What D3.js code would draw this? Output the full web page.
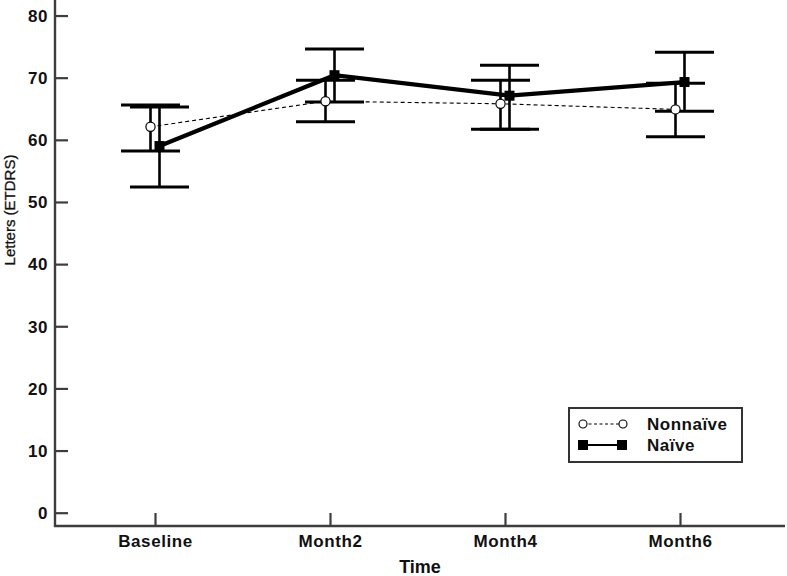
<!DOCTYPE html>
<html>
<head>
<meta charset="utf-8">
<script src="https://cdn.jsdelivr.net/npm/d3@7"></script>
<style>
  html, body { margin: 0; padding: 0; background: #fff; }
  svg { display: block; font-family: "Liberation Sans", Arial, sans-serif; }
</style>
</head>
<body>
<svg id="chart" width="787" height="576"></svg>
<script>
const categories = ["Baseline", "Month2", "Month4", "Month6"];
const yTicks = [0, 10, 20, 30, 40, 50, 60, 70, 80];

const nonnaiveMean = [62.1, 66.2, 65.8, 64.9];
const nonnaiveLow  = [58.2, 62.9, 61.7, 60.5];
const nonnaiveHigh = [65.6, 69.6, 69.6, 69.1];

const naiveMean = [59.0, 70.4, 67.1, 69.3];
const naiveLow  = [52.4, 66.1, 61.7, 64.6];
const naiveHigh = [65.3, 74.6, 72.0, 74.1];

const seriesNames = ["Nonnaïve", "Naïve"];

const svg = d3.select("#chart");
const axisColor = "#3d3d3d";

const x = d3.scalePoint().domain(categories).range([155, 680]);
const y = d3.scaleLinear().domain([-2.14, 82.5]).range([526, 0]);

// Y axis
const yAxis = d3.axisLeft(y).tickValues(yTicks).tickSize(-13).tickSizeOuter(0).tickPadding(20);
const gy = svg.append("g").attr("transform", "translate(55,0)").call(yAxis);
gy.select(".domain").remove();
gy.selectAll(".tick line").attr("stroke", axisColor).attr("stroke-width", 2.2);
gy.selectAll(".tick text").attr("fill", "#111").attr("font-size", 17).attr("font-weight", "bold")
  .attr("x", -7).attr("dy", "0.34em").attr("letter-spacing", 0.5);

// X axis
const xAxis = d3.axisBottom(x).tickSize(-13).tickSizeOuter(0).tickPadding(20);
const gx = svg.append("g").attr("transform", "translate(0,526)").call(xAxis);
gx.select(".domain").remove();
gx.selectAll(".tick line").attr("stroke", axisColor).attr("stroke-width", 2.2);
gx.selectAll(".tick text").attr("fill", "#111").attr("font-size", 17).attr("font-weight", "bold")
  .attr("y", 9).attr("dy", "0.71em").attr("letter-spacing", 0.6);

// axis lines
svg.append("line").attr("x1", 55).attr("x2", 55).attr("y1", 0).attr("y2", 527)
  .attr("stroke", axisColor).attr("stroke-width", 2.4);
svg.append("line").attr("x1", 54).attr("x2", 785).attr("y1", 526).attr("y2", 526)
  .attr("stroke", axisColor).attr("stroke-width", 2.4);

// Axis titles
svg.append("text").attr("x", 420).attr("y", 573).attr("text-anchor", "middle")
  .attr("font-size", 18).attr("font-weight", "bold").attr("fill", "#111").text("Time");
svg.append("text").attr("transform", "translate(15,210) rotate(-90)").attr("text-anchor", "middle")
  .attr("font-size", 15).attr("fill", "#111").attr("stroke", "#111").attr("stroke-width", 0.3)
  .text("Letters (ETDRS)");

const series = [
  { name: seriesNames[0], mean: nonnaiveMean, low: nonnaiveLow, high: nonnaiveHigh, dx: -4.5 },
  { name: seriesNames[1], mean: naiveMean, low: naiveLow, high: naiveHigh, dx: 4.5 }
];

const capHalf = 29.5;
// error bars
series.forEach(s => {
  const g = svg.append("g");
  categories.forEach((c, i) => {
    const cx = x(c) + s.dx;
    g.append("line").attr("x1", cx).attr("x2", cx).attr("y1", y(s.low[i])).attr("y2", y(s.high[i]))
      .attr("stroke", "#000").attr("stroke-width", 2.6);
    [s.low[i], s.high[i]].forEach(v => {
      g.append("line").attr("x1", cx - capHalf).attr("x2", cx + capHalf).attr("y1", y(v)).attr("y2", y(v))
        .attr("stroke", "#000").attr("stroke-width", 3);
    });
  });
});

// lines
const lineGen = (s) => d3.line().x((d, i) => x(categories[i]) + s.dx).y(d => y(d))(s.mean);
svg.append("path").attr("d", lineGen(series[0])).attr("fill", "none")
  .attr("stroke", "#000").attr("stroke-width", 1.1).attr("stroke-dasharray", "4,3");
svg.append("path").attr("d", lineGen(series[1])).attr("fill", "none")
  .attr("stroke", "#000").attr("stroke-width", 4.2).attr("stroke-linejoin", "miter");

// markers
categories.forEach((c, i) => {
  svg.append("circle").attr("cx", x(c) + series[0].dx).attr("cy", y(nonnaiveMean[i])).attr("r", 4.6)
    .attr("fill", "#fff").attr("stroke", "#000").attr("stroke-width", 1.2);
  svg.append("rect").attr("x", x(c) + series[1].dx - 5).attr("y", y(naiveMean[i]) - 5)
    .attr("width", 10).attr("height", 10).attr("fill", "#000");
});

// legend
const lg = svg.append("g");
lg.append("rect").attr("x", 569).attr("y", 408).attr("width", 173).attr("height", 54)
  .attr("fill", "#fff").attr("stroke", "#333").attr("stroke-width", 2);
lg.append("line").attr("x1", 583).attr("x2", 623).attr("y1", 424).attr("y2", 424)
  .attr("stroke", "#000").attr("stroke-width", 1.1).attr("stroke-dasharray", "3,2.5");
[583, 623].forEach(px => lg.append("circle").attr("cx", px).attr("cy", 424).attr("r", 4)
  .attr("fill", "#fff").attr("stroke", "#000").attr("stroke-width", 1.1));
lg.append("line").attr("x1", 583).attr("x2", 623).attr("y1", 445).attr("y2", 445)
  .attr("stroke", "#000").attr("stroke-width", 2);
[583, 622].forEach(px => lg.append("rect").attr("x", px - 5).attr("y", 440).attr("width", 10).attr("height", 10).attr("fill", "#000"));
lg.append("text").attr("x", 647).attr("y", 430).attr("font-size", 17).attr("font-weight", "bold").attr("fill", "#111").attr("letter-spacing", 0.5).text(seriesNames[0]);
lg.append("text").attr("x", 647).attr("y", 451).attr("font-size", 17).attr("font-weight", "bold").attr("fill", "#111").attr("letter-spacing", 0.5).text(seriesNames[1]);
</script>
</body>
</html>
